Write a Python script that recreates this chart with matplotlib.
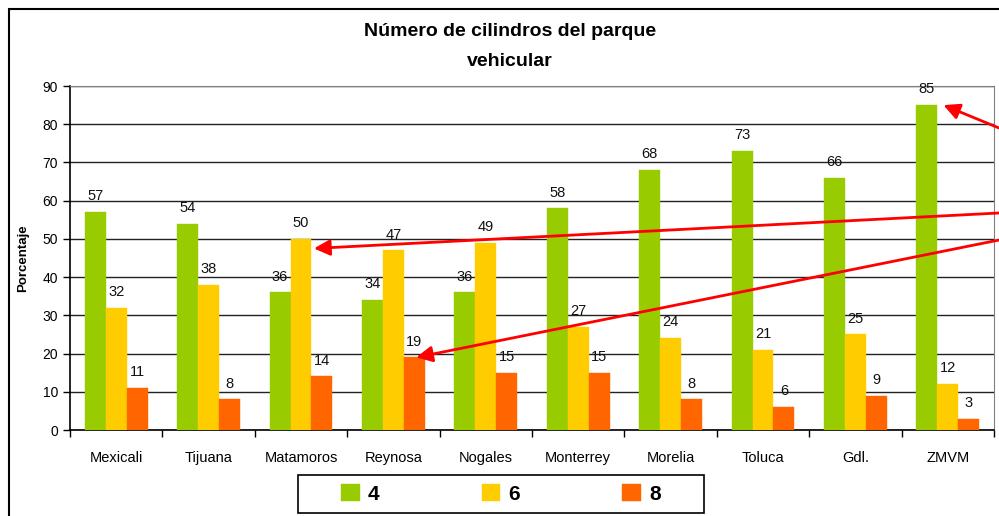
import numpy as np
import matplotlib
matplotlib.use("Agg")
import matplotlib.pyplot as plt
from matplotlib.patches import Rectangle

# data
ciudades = ["Mexicali", "Tijuana", "Matamoros", "Reynosa", "Nogales",
            "Monterrey", "Morelia", "Toluca", "Gdl.", "ZMVM"]
cil_4 = [57, 54, 36, 34, 36, 58, 68, 73, 66, 85]
cil_6 = [32, 38, 50, 47, 49, 27, 24, 21, 25, 12]
cil_8 = [11, 8, 14, 19, 15, 15, 8, 6, 9, 3]
series = [("4", cil_4, "#99CC00"), ("6", cil_6, "#FFCC00"), ("8", cil_8, "#FF6600")]

plt.rcParams['font.family'] = ['Liberation Sans', 'DejaVu Sans']

fig = plt.figure(figsize=(9.99, 5.16), dpi=100)
ax = fig.add_axes([70/999, 1 - 430/516, 924/999, 344/516])

x = np.arange(len(ciudades))
w = 0.227
bars = []
for i, (lab, vals, col) in enumerate(series):
    b = ax.bar(x + (i - 1) * w, vals, w, color=col, label=lab, zorder=3,
               edgecolor=col, linewidth=0.3)
    bars.append(b)
    for xi, v in zip(x + (i - 1) * w, vals):
        ax.text(xi, v + 2.3, str(v), ha='center', va='bottom', fontsize=10.5,
                color='#111111', zorder=4)

ax.set_xlim(-0.5, len(ciudades) - 0.5)
ax.set_ylim(0, 90)
ax.set_yticks(range(0, 91, 10))
ax.set_xticks(x)
ax.set_xticklabels(ciudades, fontsize=10.5)
ax.set_xticks(np.arange(-0.5, len(ciudades), 1), minor=True)
ax.tick_params(axis='x', which='major', length=0, pad=15)
ax.tick_params(axis='x', which='minor', length=5, width=1, direction='out')
ax.tick_params(axis='y', length=5, width=1, labelsize=10, direction='out')
ax.yaxis.grid(True, color='#222222', linewidth=1, zorder=0)
ax.set_axisbelow(True)
for s in ['top', 'right']:
    ax.spines[s].set_color('#808080')
for s in ['left', 'bottom']:
    ax.spines[s].set_color('black')
    ax.spines[s].set_linewidth(1.2)
ax.set_ylabel("Porcentaje", fontsize=9.5, fontweight='bold', labelpad=10)

fig.text(510/999, 1 - 31/516, "Número de cilindros del parque", ha='center', va='center',
         fontsize=14, fontweight='bold')
fig.text(510/999, 1 - 62/516, "vehicular", ha='center', va='center',
         fontsize=14, fontweight='bold')

# legend box drawn separately so the padding matches
fig.add_artist(Rectangle((298/999, 1 - 513/516), 406/999, 38/516,
                         transform=fig.transFigure, facecolor='white',
                         edgecolor='black', linewidth=1.2))
leg = fig.legend(handles=bars, labels=[s[0] for s in series], loc='center',
                 bbox_to_anchor=(501/999, 1 - 494/516), ncol=3, frameon=False,
                 handlelength=0.9, handleheight=0.9, columnspacing=4.9,
                 handletextpad=0.4, prop={'weight': 'bold', 'size': 15})

# figure border
fig.add_artist(Rectangle((9/999, -0.2), 2.0, 1.2 - 9/516, transform=fig.transFigure,
                         fill=False, edgecolor='black', linewidth=1.5))

# red arrows from the right edge
arrow = dict(arrowstyle='-|>', color='red', lw=2, mutation_scale=24, shrinkA=0, shrinkB=0)
ax.annotate("", xy=(9 - w + 0.18, 85), xycoords='data',
            xytext=(1.0, 1 - 128/516), textcoords='figure fraction', arrowprops=arrow,
            annotation_clip=False)
ax.annotate("", xy=(2 + 0.14, 47.5), xycoords='data',
            xytext=(1.0, 1 - 213/516), textcoords='figure fraction', arrowprops=arrow,
            annotation_clip=False)
ax.annotate("", xy=(3 + w + 0.02, 19), xycoords='data',
            xytext=(1.0, 1 - 240/516), textcoords='figure fraction', arrowprops=arrow,
            annotation_clip=False)

fig.savefig("out.png", dpi=100)
